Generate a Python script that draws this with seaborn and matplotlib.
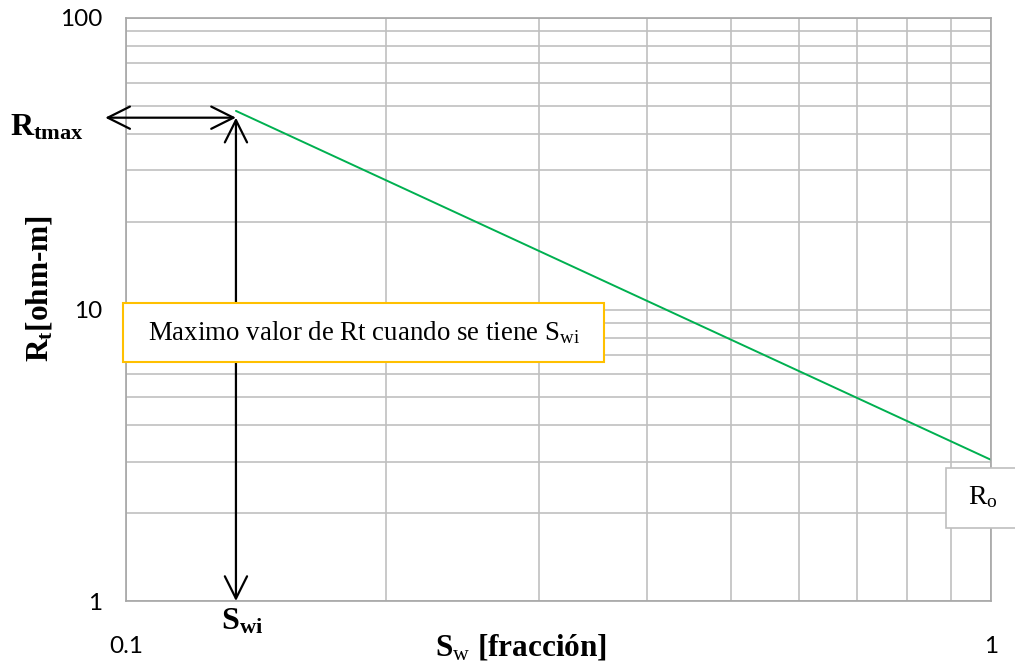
import numpy as np
import pandas as pd
import matplotlib
matplotlib.use("Agg")
import matplotlib.pyplot as plt
import matplotlib.ticker as mticker
from matplotlib.patches import Rectangle
import seaborn as sns

# datos
sw = [0.134, 1.0]
rt = [48.0, 3.05]
swi = 0.134
rtmax = 45.5
xticks = [0.1, 1]
xtick_labels = ["0.1", "1"]
yticks = [1, 10, 100]
ytick_labels = ["1", "10", "100"]

sns.set_theme(style="white")
plt.rcParams["font.family"] = ["Lato", "DejaVu Sans"]
plt.rcParams["text.color"] = "black"
plt.rcParams["mathtext.fontset"] = "custom"
plt.rcParams["mathtext.rm"] = "Liberation Serif"
plt.rcParams["mathtext.bf"] = "Liberation Serif:bold"
plt.rcParams["mathtext.it"] = "Liberation Serif:italic"

df = pd.DataFrame({"Sw": sw, "Rt": rt})

fig = plt.figure(figsize=(10.15, 6.62), dpi=100)
ax = fig.add_axes([126 / 1015, 1 - 601 / 662, 865 / 1015, 583 / 662])

sns.lineplot(data=df, x="Sw", y="Rt", ax=ax, color="#00B050", linewidth=1.4)
ax.set_xscale("log")
ax.set_yscale("log")
ax.set_xlim(0.1, 1)
ax.set_ylim(1, 100)

ax.xaxis.set_major_locator(mticker.FixedLocator(xticks))
ax.xaxis.set_major_formatter(mticker.FixedFormatter(xtick_labels))
ax.yaxis.set_major_locator(mticker.FixedLocator(yticks))
ax.yaxis.set_major_formatter(mticker.FixedFormatter(ytick_labels))
ax.xaxis.set_minor_locator(mticker.LogLocator(base=10, subs=np.arange(2, 10)))
ax.yaxis.set_minor_locator(mticker.LogLocator(base=10, subs=np.arange(2, 10)))
ax.xaxis.set_minor_formatter(mticker.NullFormatter())
ax.yaxis.set_minor_formatter(mticker.NullFormatter())
ax.tick_params(axis="both", which="both", length=0, colors="black", labelsize=17.5)
ax.tick_params(axis="x", pad=25)
ax.tick_params(axis="y", pad=17)
ax.grid(True, which="both", color="#C0C0C0", linewidth=1.2)
ax.set_xlabel("")
ax.set_ylabel("")
for s in ax.spines.values():
    s.set_color("#A6A6A6")
    s.set_linewidth(1.2)

# flechas
arrow = dict(arrowstyle="<->,head_length=0.8,head_width=0.4", color="black",
             lw=1.6, mutation_scale=20, shrinkA=0, shrinkB=0)
ax.annotate("", xy=(swi, rtmax), xytext=(-0.024, rtmax),
            xycoords="data", textcoords=("axes fraction", "data"), arrowprops=arrow)
ax.annotate("", xy=(swi, 1), xytext=(swi, rtmax), arrowprops=arrow)

# textos
fig.text(47 / 1015, 1 - 127 / 662, r"$\mathbf{R_{tmax}}$", fontsize=23,
         ha="center", va="center")
fig.text(242 / 1015, 1 - 621 / 662, r"$\mathbf{S_{wi}}$", fontsize=23,
         ha="center", va="center")
fig.text(40 / 1015, 1 - 289 / 662, r"$\mathbf{R_t}$[ohm-m]", fontsize=22.5,
         fontweight="bold", family="Liberation Serif", rotation=90,
         ha="center", va="center")
fig.text(521 / 1015, 1 - 647 / 662, r"$\mathbf{S}_\mathrm{w}$ [fracción]", fontsize=22.5,
         fontweight="bold", family="Liberation Serif", ha="center", va="center")

fig.patches.append(Rectangle((123 / 1015, 1 - 362 / 662), 481 / 1015, 59 / 662,
                             transform=fig.transFigure, facecolor="white",
                             edgecolor="#FFC000", linewidth=1.5, zorder=5))
fig.text(364 / 1015, 1 - 333 / 662, r"Maximo valor de Rt cuando se tiene S$_{\mathrm{wi}}$",
         fontsize=19.4, family="Liberation Serif", ha="center", va="center", zorder=6)

fig.patches.append(Rectangle((946 / 1015, 1 - 528 / 662), 80 / 1015, 60 / 662,
                             transform=fig.transFigure, facecolor="white",
                             edgecolor="#BFBFBF", linewidth=1.2, zorder=5))
fig.text(983 / 1015, 1 - 497 / 662, r"R$_{\mathrm{o}}$", fontsize=20,
         family="Liberation Serif", ha="center", va="center", zorder=6)

fig.savefig("out.png", dpi=100)
